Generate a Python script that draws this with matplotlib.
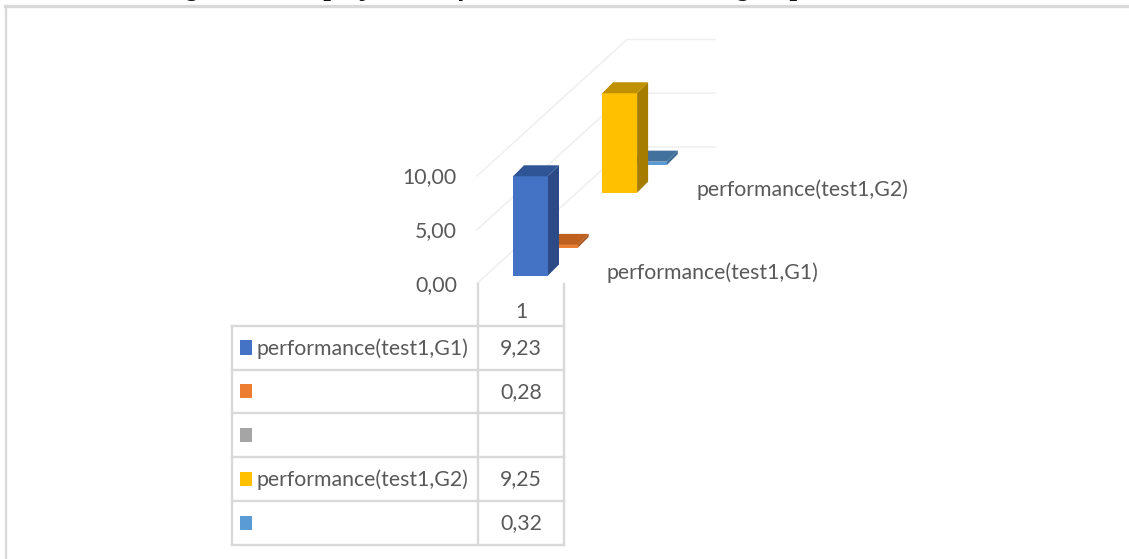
import matplotlib
matplotlib.use("Agg")
import matplotlib.pyplot as plt
from matplotlib.patches import Polygon, Rectangle

# Chart data
category_labels = ["1"]
series_names = ["performance(test1,G1)", "", "", "performance(test1,G2)", ""]
series_values = [9.23, 0.28, None, 9.25, 0.32]
value_labels = ["9,23", "0,28", "", "9,25", "0,32"]
series_colors = ["#4472C4", "#ED7D31", "#A5A5A5", "#FFC000", "#5B9BD5"]
side_colors = ["#2B4A86", "#A9561F", "#6E6E6E", "#A67C00", "#3A6A96"]
top_colors = ["#2F5597", "#C0601F", "#7F7F7F", "#BF9000", "#41719C"]
axis_ticks = [0, 5, 10]
axis_tick_labels = ["0,00", "5,00", "10,00"]
depth_labels = {0: "performance(test1,G1)", 3: "performance(test1,G2)"}

W, H = 1129, 559
FONT = "Lato"
FONT_SIZE = 15.35
GREY_TEXT = "#595959"
GRID = "#EFEFEF"
TABLE = "#D9D9D9"

# Oblique projection of the 3-D column plot onto the page
ORIGIN_X, ORIGIN_Y = 513.0, 275.5
BAR_W = 35.0
BAR_D = 11.0
STEP_X, STEP_Y = 29.7, -27.6
UNIT = 10.75


def project(series, value, offset=0.0):
    return (ORIGIN_X + series * STEP_X + offset,
            ORIGIN_Y + series * STEP_Y - value * UNIT)


def draw_column(ax, series, value, front, side, top, z):
    x0, y0 = project(series, 0)
    x1, y1 = project(series, value)
    ax.add_patch(Rectangle((x0, y1), BAR_W, y0 - y1, fc=front, ec="none", zorder=z + 0.2))
    ax.add_patch(Polygon([(x0 + BAR_W, y0), (x0 + BAR_W + BAR_D, y0 - BAR_D),
                          (x0 + BAR_W + BAR_D, y1 - BAR_D), (x0 + BAR_W, y1)],
                         fc=side, ec="none", zorder=z + 0.1))
    ax.add_patch(Polygon([(x0, y1), (x0 + BAR_W, y1),
                          (x0 + BAR_W + BAR_D, y1 - BAR_D), (x0 + BAR_D, y1 - BAR_D)],
                         fc=top, ec="none", zorder=z + 0.3))


fig = plt.figure(figsize=(W / 100, H / 100), dpi=100)
ax = fig.add_axes([0, 0, 1, 1])
ax.set_xlim(0, W)
ax.set_ylim(H, 0)
ax.axis("off")

# Outer frame: only the top and left edges fall inside the canvas
ax.plot([6.2, 6.2], [5.5, H], color=TABLE, lw=1.7, zorder=1)
ax.plot([5.4, W], [5.5, 5.5], color=TABLE, lw=2.4, zorder=1)

# Caption cut off by the top edge, only its descenders show
ax.text(162, -5, "Figure 4: The projection of the test1 across the two groups",
        family="Liberation Serif", style="italic", weight="bold", fontsize=19.5,
        color="#111111", ha="left", va="baseline", zorder=2)

# Wall gridlines
WALL_X0, WALL_X1, WALL_X2 = 477.0, 627.0, 715.0
for tick, label in zip(axis_ticks, axis_tick_labels):
    y_front = 283.5 - tick * UNIT
    y_back = 147.0 - tick * UNIT
    ax.plot([WALL_X0, WALL_X1, WALL_X2], [y_front, y_back, y_back],
            color=GRID, lw=1.1, zorder=2)
    ax.text(457, y_front + 1.5, label, family=FONT, fontsize=FONT_SIZE, color=GREY_TEXT,
            ha="right", va="center", zorder=6)

# Columns, drawn back to front
for i in reversed(range(len(series_values))):
    if series_values[i] is not None:
        draw_column(ax, i, series_values[i], series_colors[i], side_colors[i],
                    top_colors[i], 3 + (len(series_values) - i))

# Depth axis labels
for i, label in depth_labels.items():
    x, y = project(i, 0)
    ax.text(x + 94, y - 2.5, label, family=FONT, fontsize=FONT_SIZE, color=GREY_TEXT,
            ha="left", va="center", zorder=12)

# Data table below the plot
ROWS = [326, 369.5, 413, 457, 501, 545]
COLS = [231.5, 478, 564]
for y in ROWS:
    ax.plot([COLS[0], COLS[2]], [y, y], color=TABLE, lw=1.7, zorder=2, solid_capstyle="projecting")
ax.plot([COLS[0], COLS[0]], [ROWS[0], ROWS[-1]], color=TABLE, lw=1.7, zorder=2)
for x in COLS[1:]:
    ax.plot([x, x], [283.5, ROWS[-1]], color=TABLE, lw=1.7, zorder=2)
ax.text(521, 312.5, category_labels[0], family=FONT, fontsize=FONT_SIZE, color=GREY_TEXT,
        ha="center", va="center", zorder=6)
for i, (name, text, color) in enumerate(zip(series_names, value_labels, series_colors)):
    yc = (ROWS[i] + ROWS[i + 1]) / 2 - 0.5
    ax.add_patch(Rectangle((239.5, yc - 7), 12.5, 14.5, fc=color, ec="none", zorder=6))
    if name:
        ax.text(257, yc + 1, name, family=FONT, fontsize=FONT_SIZE, color=GREY_TEXT,
                ha="left", va="center", zorder=6)
    if text:
        ax.text(521, yc + 1, text, family=FONT, fontsize=FONT_SIZE, color=GREY_TEXT,
                ha="center", va="center", zorder=6)

fig.savefig("out.png", dpi=100, facecolor="white")
